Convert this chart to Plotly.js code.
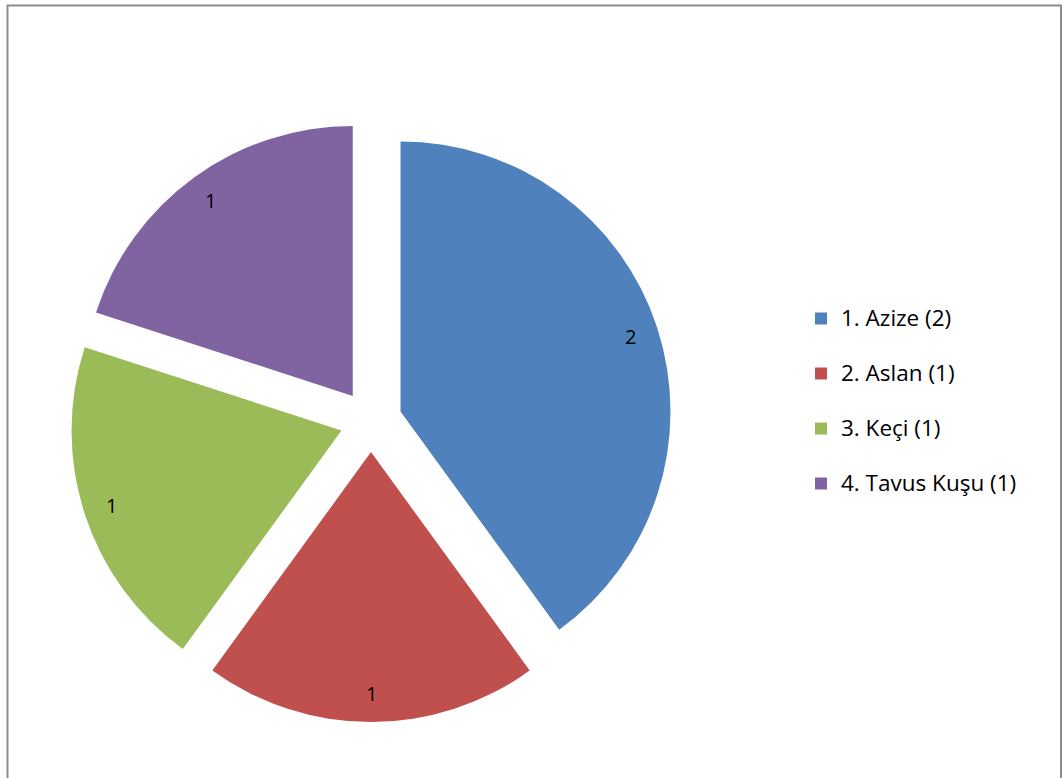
<!DOCTYPE html>
<html>
<head>
<meta charset="utf-8">
<script src="https://cdn.plot.ly/plotly-3.0.1.min.js"></script>
<style>
html,body{margin:0;padding:0;background:#fff;}
#chart{width:1063px;height:778px;}
</style>
</head>
<body>
<div id="chart"></div>
<script>
const categories = ["1. Azize (2)", "2. Aslan (1)", "3. Keçi (1)", "4. Tavus Kuşu (1)"];
const values = [2, 1, 1, 1];
const colors = ["#4F81BD", "#C0504D", "#9BBB59", "#8064A2"];
const pulls = [0.115, 0.115, 0.115, 0.115];

const W = 1063, H = 778;
const domX = [70 / W, 672 / W];
const domY = [1 - 722 / H, 1 - 120 / H];

const trace = {
  type: "pie",
  labels: categories.map(c => '<span style="font-size:22.5px">' + c + '</span><br> '),
  values: values,
  textinfo: "none",
  marker: {colors: colors, line: {width: 0}},
  pull: pulls,
  sort: false,
  direction: "clockwise",
  rotation: 0,
  domain: {x: domX, y: domY},
  hoverinfo: "none"
};

// value labels placed near the outer edge of each slice (computed from the data)
const total = values.reduce((a, b) => a + b, 0);
const cxPx = (domX[0] + domX[1]) / 2 * W;
const cyPx = (1 - (domY[0] + domY[1]) / 2) * H;
const maxPull = Math.max(...pulls);
const rPx = Math.min((domX[1] - domX[0]) * W, (domY[1] - domY[0]) * H) / 2 / (1 + maxPull);
let cum = 0;
const annotations = values.map((v, i) => {
  const theta = 2 * Math.PI * (cum + v / 2) / total;
  cum += v;
  const R = pulls[i] * rPx + 0.895 * rPx;
  const sx = cxPx + Math.sin(theta) * R;
  const sy = cyPx - Math.cos(theta) * R;
  return {
    xref: "paper", yref: "paper", x: sx / W, y: 1 - sy / H,
    text: String(v), showarrow: false, xanchor: "center", yanchor: "middle",
    font: {family: "Open Sans, Liberation Sans, Arial, sans-serif", size: 20, color: "#000"}
  };
});

const layout = {
  width: W, height: H,
  margin: {l: 0, r: 0, t: 0, b: 0},
  paper_bgcolor: "#fff",
  showlegend: true,
  legend: {
    x: 801 / W, y: 1 - 299 / H, xanchor: "left", yanchor: "top",
    valign: "top",
    font: {family: "Open Sans, Liberation Sans, Arial, sans-serif", size: 20, color: "#000"},
    itemwidth: 30
  },
  annotations: annotations,
  shapes: [{
    type: "rect", xref: "paper", yref: "paper",
    x0: 7.5 / W, x1: 1061 / W, y0: -0.05, y1: 1 - 5.5 / H,
    line: {color: "#8C8C8C", width: 2}, fillcolor: "rgba(0,0,0,0)"
  }]
};

Plotly.newPlot("chart", [trace], layout, {displayModeBar: false, staticPlot: true});
</script>
</body>
</html>
